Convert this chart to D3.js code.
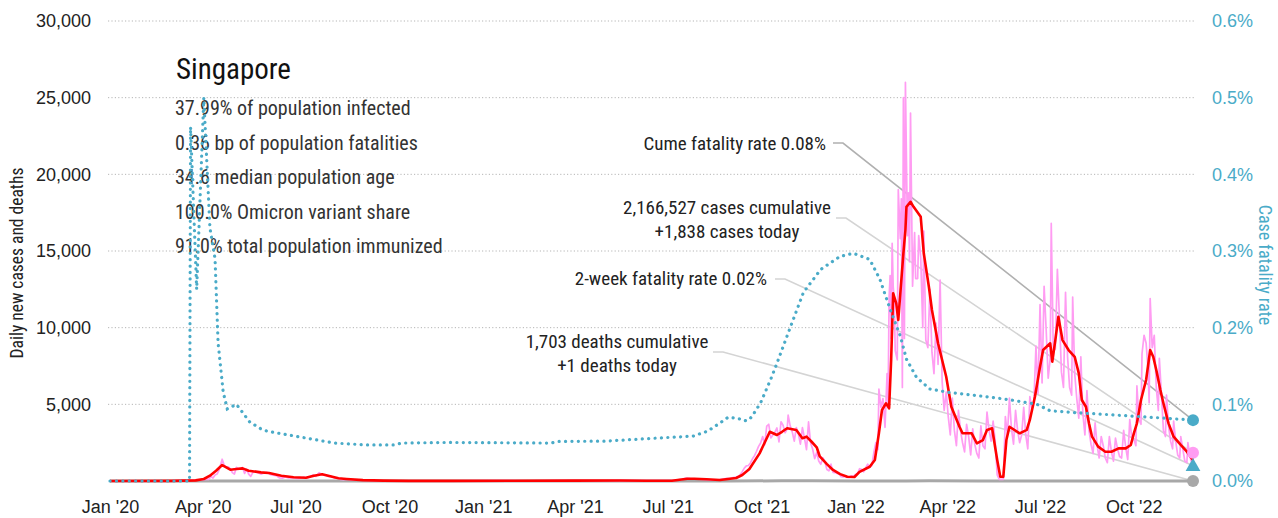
<!DOCTYPE html>
<html>
<head>
<meta charset="utf-8">
<script src="https://cdn.jsdelivr.net/npm/d3@7"></script>
<style>
  body { margin: 0; background: #fff; }
  svg { display: block; font-family: "Roboto Condensed", "Liberation Sans Narrow", "DejaVu Sans Condensed", "Arial Narrow", sans-serif; font-stretch: condensed; }
</style>
</head>
<body>
<svg id="chart" width="1278" height="518"></svg>
<script>
// Daily new cases (raw reports)
const dailyCases = [
  ["2020-01-01",0],["2020-02-01",3],["2020-03-01",5],["2020-03-20",50],["2020-03-28",70],["2020-04-02",90],["2020-04-05",120],["2020-04-07",110],["2020-04-09",290],["2020-04-11",190],["2020-04-13",390],["2020-04-15",450],["2020-04-17",730],["2020-04-18",940],["2020-04-20",1420],["2020-04-22",1020],["2020-04-24",900],["2020-04-26",930],["2020-04-28",800],["2020-04-30",550],["2020-05-02",450],["2020-05-04",890],["2020-05-06",780],["2020-05-08",770],["2020-05-10",880],["2020-05-12",490],["2020-05-14",780],["2020-05-16",450],["2020-05-18",300],["2020-05-20",550],["2020-05-22",610],["2020-05-25",540],["2020-05-28",450],["2020-05-31",520],["2020-06-03",560],["2020-06-06",430],["2020-06-09",380],["2020-06-12",350],["2020-06-15",210],["2020-06-18",190],["2020-06-21",260],["2020-06-24",200],["2020-06-27",210],["2020-06-30",200],["2020-07-03",160],["2020-07-06",180],["2020-07-09",250],["2020-07-12",180],["2020-07-15",280],["2020-07-18",400],["2020-07-21",300],["2020-07-24",540],["2020-07-27",420],["2020-07-30",390],["2020-08-02",300],["2020-08-05",300],["2020-08-08",190],["2020-08-11",190],["2020-08-14",100],["2020-08-17",90],["2020-08-20",120],["2020-08-25",70],["2020-09-01",50],["2020-09-10",40],["2020-09-20",20],["2020-10-01",15],["2020-11-01",8],["2020-12-01",10],
  ["2021-01-15",30],["2021-02-15",15],["2021-03-15",20],["2021-04-15",30],["2021-05-01",30],["2021-05-15",45],["2021-06-01",25],["2021-06-20",20],["2021-07-05",25],["2021-07-15",110],["2021-07-19",190],["2021-07-23",160],["2021-07-27",140],["2021-07-31",120],["2021-08-04",100],["2021-08-08",90],["2021-08-12",60],["2021-08-16",50],["2021-08-20",80],["2021-08-24",130],["2021-08-28",180],["2021-08-31",160],["2021-09-03",230],["2021-09-06",260],["2021-09-09",330],["2021-09-12",610],["2021-09-14",840],["2021-09-16",990],["2021-09-18",1010],["2021-09-20",1180],["2021-09-22",1450],["2021-09-24",1650],["2021-09-26",1940],["2021-09-28",2260],["2021-09-30",2480],["2021-10-02",2900],["2021-10-04",2370],["2021-10-06",3580],["2021-10-08",3700],["2021-10-10",2810],["2021-10-12",2980],["2021-10-14",3190],["2021-10-16",3460],["2021-10-18",2550],["2021-10-20",3860],["2021-10-22",3640],["2021-10-24",3150],["2021-10-26",3380],["2021-10-27",4300],["2021-10-29",3600],["2021-10-31",3200],["2021-11-02",2600],["2021-11-04",3480],["2021-11-06",3100],["2021-11-08",2400],["2021-11-10",3480],["2021-11-12",2800],["2021-11-14",2050],["2021-11-16",3850],["2021-11-18",2500],["2021-11-20",2090],["2021-11-22",1460],["2021-11-24",1860],["2021-11-26",1300],["2021-11-28",1090],["2021-11-30",1520],["2021-12-02",1270],["2021-12-04",750],["2021-12-06",660],["2021-12-08",1100],["2021-12-10",560],["2021-12-12",550],["2021-12-14",500],["2021-12-16",460],["2021-12-18",280],["2021-12-20",260],["2021-12-22",310],["2021-12-24",230],["2021-12-26",240],["2021-12-28",340],["2021-12-30",270],
  ["2022-01-01",430],["2022-01-03",490],["2022-01-05",800],["2022-01-07",760],["2022-01-09",600],["2022-01-11",850],["2022-01-13",1100],["2022-01-15",900],["2022-01-17",1000],["2022-01-19",1840],["2022-01-21",2500],["2022-01-23",2050],["2022-01-24",6000],["2022-01-26",4800],["2022-01-28",5380],["2022-01-30",3500],["2022-02-01",7000],["2022-02-02",5100],["2022-02-03",12000],["2022-02-04",13400],["2022-02-05",9300],["2022-02-06",15500],["2022-02-07",12700],["2022-02-08",11900],["2022-02-09",8500],["2022-02-11",7900],["2022-02-12",19000],["2022-02-14",15800],["2022-02-15",18400],["2022-02-16",6100],["2022-02-17",25000],["2022-02-18",9300],["2022-02-19",26000],["2022-02-21",16000],["2022-02-22",18800],["2022-02-23",14300],["2022-02-24",24000],["2022-02-26",12700],["2022-02-28",16200],["2022-03-01",13200],["2022-03-03",13200],["2022-03-04",16000],["2022-03-06",14600],["2022-03-08",10000],["2022-03-09",16300],["2022-03-11",9200],["2022-03-13",8700],["2022-03-15",12500],["2022-03-17",8400],["2022-03-19",7000],["2022-03-21",10300],["2022-03-23",7600],["2022-03-25",13100],["2022-03-27",6500],["2022-03-29",4600],["2022-03-31",5800],["2022-04-02",4200],["2022-04-04",3000],["2022-04-06",5400],["2022-04-08",3300],["2022-04-10",2300],["2022-04-12",4600],["2022-04-14",3300],["2022-04-16",2500],["2022-04-18",1900],["2022-04-20",3700],["2022-04-22",2900],["2022-04-24",1700],["2022-04-26",3400],["2022-04-28",2400],["2022-04-30",1800],["2022-05-02",1500],["2022-05-04",3600],["2022-05-06",2300],["2022-05-08",2100],["2022-05-10",4500],["2022-05-12",3300],["2022-05-14",2600],["2022-05-16",3900],["2022-05-18",2600],["2022-05-20",400],["2022-05-22",100],["2022-05-24",100],["2022-05-26",100],["2022-05-28",4200],["2022-05-30",3000],["2022-06-01",5400],["2022-06-03",3400],["2022-06-05",2400],["2022-06-07",4600],["2022-06-09",3300],["2022-06-11",2500],["2022-06-13",3000],["2022-06-15",4800],["2022-06-17",3000],["2022-06-19",2100],["2022-06-21",5500],["2022-06-23",4700],["2022-06-25",5200],["2022-06-27",8800],["2022-06-29",5700],["2022-07-01",11500],["2022-07-03",6400],["2022-07-05",12700],["2022-07-07",9900],["2022-07-09",6700],["2022-07-11",8000],["2022-07-12",16800],["2022-07-14",8500],["2022-07-16",8600],["2022-07-18",13800],["2022-07-20",10700],["2022-07-22",7100],["2022-07-24",6100],["2022-07-26",12300],["2022-07-28",8100],["2022-07-30",6100],["2022-08-01",5600],["2022-08-02",12000],["2022-08-04",7000],["2022-08-06",5400],["2022-08-08",4100],["2022-08-10",8100],["2022-08-12",4400],["2022-08-14",3000],["2022-08-16",5900],["2022-08-18",3300],["2022-08-20",2400],["2022-08-22",1800],["2022-08-24",3800],["2022-08-26",2300],["2022-08-28",1500],["2022-08-30",2900],["2022-09-01",2300],["2022-09-03",1500],["2022-09-05",1200],["2022-09-07",2900],["2022-09-09",1900],["2022-09-11",1300],["2022-09-13",2800],["2022-09-15",2100],["2022-09-17",1600],["2022-09-19",1500],["2022-09-21",3300],["2022-09-23",2200],["2022-09-25",1400],["2022-09-27",4000],["2022-09-29",2800],["2022-10-01",2700],["2022-10-03",2300],["2022-10-04",6200],["2022-10-06",4000],["2022-10-08",3700],["2022-10-09",8300],["2022-10-11",9500],["2022-10-13",9000],["2022-10-15",7200],["2022-10-16",5100],["2022-10-17",11900],["2022-10-19",8700],["2022-10-21",9500],["2022-10-23",6100],["2022-10-25",4600],["2022-10-26",8000],["2022-10-28",5700],["2022-10-30",3300],["2022-11-01",2900],["2022-11-02",5600],["2022-11-04",3600],["2022-11-06",2600],["2022-11-08",2100],["2022-11-09",3900],["2022-11-11",2600],["2022-11-13",1700],["2022-11-15",1500],["2022-11-16",2900],["2022-11-18",2100],["2022-11-20",1300],["2022-11-22",1200],["2022-11-23",2500],["2022-11-25",1600],["2022-11-27",1100],["2022-11-28",1838]
];

// 7-day average of new cases
const avgCases = [
  ["2020-01-01",0],["2020-03-01",5],["2020-03-25",40],["2020-04-02",130],["2020-04-08",345],["2020-04-14",670],["2020-04-20",1040],["2020-04-24",890],["2020-04-28",735],["2020-05-04",780],["2020-05-10",825],["2020-05-16",670],["2020-05-28",565],["2020-06-05",520],["2020-06-17",345],["2020-06-29",240],["2020-07-11",215],["2020-07-19",345],["2020-07-27",435],["2020-08-04",305],["2020-08-12",175],["2020-08-20",130],["2020-09-05",60],["2020-09-25",25],["2020-10-20",10],["2020-12-01",10],
  ["2021-02-01",15],["2021-04-01",25],["2021-05-15",35],["2021-06-10",20],["2021-07-05",20],["2021-07-20",150],["2021-07-27",150],["2021-08-08",110],["2021-08-21",65],["2021-08-31",150],["2021-09-06",195],["2021-09-12",390],["2021-09-19",780],["2021-09-29",1800],["2021-10-09",3210],["2021-10-16",3000],["2021-10-21",3210],["2021-10-26",3440],["2021-11-04",3330],["2021-11-10",2790],["2021-11-14",2890],["2021-11-19",2560],["2021-11-24",2200],["2021-11-27",1600],["2021-12-04",1100],["2021-12-10",720],["2021-12-17",450],["2021-12-24",280],["2021-12-31",260],
  ["2022-01-05",600],["2022-01-15",930],["2022-01-20",1370],["2022-01-24",3110],["2022-01-27",4630],["2022-01-31",5070],["2022-02-03",4740],["2022-02-05",7890],["2022-02-07",12240],["2022-02-10",11590],["2022-02-12",10500],["2022-02-17",14850],["2022-02-19",16370],["2022-02-20",17880],["2022-02-24",18210],["2022-02-27",17880],["2022-03-06",17230],["2022-03-09",14850],["2022-03-12",13540],["2022-03-14",12670],["2022-03-17",11150],["2022-03-23",8980],["2022-03-31",6800],["2022-04-05",4840],["2022-04-13",3540],["2022-04-16",3110],["2022-04-25",3110],["2022-04-30",2460],["2022-05-06",2670],["2022-05-10",3330],["2022-05-15",3440],["2022-05-20",1370],["2022-05-23",280],["2022-05-26",280],["2022-05-29",2670],["2022-06-01",3540],["2022-06-11",3110],["2022-06-18",3330],["2022-06-21",3980],["2022-06-26",5500],["2022-07-01",7450],["2022-07-04",8540],["2022-07-11",8980],["2022-07-13",7780],["2022-07-16",9190],["2022-07-19",10710],["2022-07-23",9190],["2022-07-29",8540],["2022-08-04",8100],["2022-08-08",7020],["2022-08-11",5280],["2022-08-15",4840],["2022-08-18",3760],["2022-08-21",2890],["2022-08-27",2240],["2022-09-03",1910],["2022-09-09",1910],["2022-09-16",2130],["2022-09-23",2130],["2022-09-28",2350],["2022-10-01",3110],["2022-10-04",3760],["2022-10-08",5280],["2022-10-13",6590],["2022-10-17",8540],["2022-10-20",8100],["2022-10-23",7240],["2022-10-27",5930],["2022-10-30",5070],["2022-11-04",3760],["2022-11-09",2890],["2022-11-16",2350],["2022-11-22",1910],["2022-11-28",1370]
];

// Case fatality rate, percent
const fatalityRate = [
  ["2020-01-01",0],["2020-03-19",0],["2020-03-20",0.462],["2020-03-26",0.25],["2020-04-02",0.50],["2020-04-08",0.33],["2020-04-13",0.29],["2020-04-16",0.18],["2020-04-21",0.116],["2020-04-25",0.094],["2020-05-04",0.10],["2020-05-17",0.077],["2020-05-28",0.068],["2020-06-03",0.065],["2020-07-07",0.057],["2020-08-08",0.0495],["2020-09-09",0.047],["2020-10-05",0.047],["2020-10-13",0.0495],["2020-11-28",0.0503],
  ["2021-03-08",0.0495],["2021-03-16",0.0516],["2021-04-30",0.052],["2021-06-04",0.0547],["2021-07-26",0.0586],["2021-08-09",0.065],["2021-08-22",0.0764],["2021-08-29",0.083],["2021-09-08",0.0816],["2021-09-14",0.0785],["2021-09-19",0.080],["2021-09-24",0.0894],["2021-09-30",0.102],["2021-10-05",0.1175],["2021-10-10",0.133],["2021-10-15",0.15],["2021-10-29",0.20],["2021-11-11",0.246],["2021-11-28",0.276],["2021-12-17",0.293],["2021-12-30",0.297],
  ["2022-01-15",0.289],["2022-01-25",0.263],["2022-02-04",0.224],["2022-02-14",0.189],["2022-02-20",0.159],["2022-03-02",0.135],["2022-03-15",0.12],["2022-04-03",0.1155],["2022-05-03",0.111],["2022-06-01",0.106],["2022-06-28",0.100],["2022-07-11",0.0915],["2022-08-02",0.0894],["2022-09-10",0.0863],["2022-10-20",0.0829],["2022-11-28",0.0794]
];

// Daily deaths (7-day average)
const avgDeaths = [
  ["2020-01-01",0],["2020-04-20",1],["2020-06-01",0],["2021-09-01",1],["2021-10-20",12],["2021-11-20",10],["2021-12-31",3],["2022-02-20",8],["2022-03-15",9],["2022-05-01",2],["2022-07-20",6],["2022-09-15",2],["2022-10-20",4],["2022-11-28",1]
];

const leftTicks = [5000, 10000, 15000, 20000, 25000, 30000];
const rightTicks = [0, 0.1, 0.2, 0.3, 0.4, 0.5, 0.6];
const monthTicks = ["2020-01-01","2020-04-01","2020-07-01","2020-10-01","2021-01-01","2021-04-01","2021-07-01","2021-10-01","2022-01-01","2022-04-01","2022-07-01","2022-10-01"];

const countryName = "Singapore";
const countryStats = [
  "37.99% of population infected",
  "0.36 bp of population fatalities",
  "34.6 median population age",
  "100.0% Omicron variant share",
  "91.0% total population immunized"
];

const latest = { cfr: 0.0794, cases: 1838, twoWeekCfr: 0.02, deaths: 0 };
const notes = {
  cume: ["Cume fatality rate 0.08%"],
  cases: ["2,166,527 cases cumulative", "+1,838 cases today"],
  twoWeek: ["2-week fatality rate 0.02%"],
  deaths: ["1,703 deaths cumulative", "+1 deaths today"]
};

const parse = d3.timeParse("%Y-%m-%d");
const endDate = parse("2022-11-28");

const svg = d3.select("#chart");
const W = 1278, H = 518;
const m = { left: 110, right: 85, top: 21, bottom: 37 };

const x = d3.scaleTime().domain([parse("2020-01-01"), endDate]).range([m.left, W - m.right]);
const y = d3.scaleLinear().domain([0, 30000]).range([H - m.bottom, m.top]);
const yR = d3.scaleLinear().domain([0, 0.6]).range([H - m.bottom, m.top]);

const TEAL = "#4aabc8";
const PINK = "#ff9cf2";
const RED = "#ff0000";
const GREY = "#a8a8a8";

// gridlines
svg.append("g").selectAll("line").data(leftTicks).join("line")
  .attr("x1", m.left - 2).attr("x2", W - m.right + 2)
  .attr("y1", d => y(d)).attr("y2", d => y(d))
  .attr("stroke", "#b5b5b5").attr("stroke-width", 1).attr("stroke-dasharray", "1.2,2.2");

// left axis
const gL = svg.append("g").attr("transform", `translate(${m.left - 19},0)`)
  .call(d3.axisLeft(y).tickValues(leftTicks).tickSize(0).tickPadding(0).tickFormat(d3.format(",")));
gL.select(".domain").remove();
gL.selectAll("text").attr("font-size", 18).attr("fill", "#222");

// right axis
const gR = svg.append("g").attr("transform", `translate(${W - m.right + 19},0)`)
  .call(d3.axisRight(yR).tickValues(rightTicks).tickSize(0).tickPadding(0).tickFormat(d => d.toFixed(1) + "%"));
gR.select(".domain").remove();
gR.selectAll("text").attr("font-size", 18).attr("fill", TEAL);

// bottom axis
const gB = svg.append("g").attr("transform", `translate(0,${H - m.bottom})`)
  .call(d3.axisBottom(x).tickValues(monthTicks.map(parse)).tickSize(0).tickPadding(19).tickFormat(d3.timeFormat("%b '%y")));
gB.select(".domain").remove();
gB.selectAll("text").attr("font-size", 18).attr("fill", "#222");

// axis titles
svg.append("text").attr("transform", `translate(23,${(m.top + H - m.bottom) / 2 + 12}) rotate(-90)`)
  .attr("text-anchor", "middle").attr("font-size", 17.5).attr("fill", "#222").text("Daily new cases and deaths");
svg.append("text").attr("transform", `translate(1259,${(m.top + H - m.bottom) / 2 + 14}) rotate(90)`)
  .attr("text-anchor", "middle").attr("font-size", 18).attr("fill", TEAL).text("Case fatality rate");

// country title and stats
svg.append("text").attr("x", 176).attr("y", 79).attr("font-size", 29).attr("fill", "#111").text(countryName);
svg.append("g").selectAll("text").data(countryStats).join("text")
  .attr("x", 175).attr("y", (d, i) => 115 + i * 34.6)
  .attr("font-size", 20).attr("fill", "#333").text(d => d);

// annotation leader lines
const endX = x(endDate);
const leaders = [
  { x0: 833, y0: 143, y1: yR(latest.cfr), color: "#b0b0b0" },
  { x0: 836, y0: 218, y1: y(latest.cases), color: "#d4d4d4" },
  { x0: 775, y0: 279, y1: yR(latest.twoWeekCfr), color: "#d4d4d4" },
  { x0: 713, y0: 352, y1: y(latest.deaths), color: "#d4d4d4" }
];
svg.append("g").selectAll("path").data(leaders).join("path")
  .attr("d", d => `M${d.x0},${d.y0}H${d.x0 + 10}L${endX},${d.y1}`)
  .attr("fill", "none").attr("stroke", d => d.color).attr("stroke-width", 1.6);

const line = (sc) => d3.line().x(d => x(parse(d[0]))).y(d => sc(d[1]));

// deaths
svg.append("path").datum(avgDeaths).attr("d", line(y)).attr("fill", "none")
  .attr("stroke", GREY).attr("stroke-width", 3);

// raw daily cases
svg.append("path").datum(dailyCases).attr("d", line(y)).attr("fill", "none")
  .attr("stroke", PINK).attr("stroke-width", 1.7).attr("stroke-linejoin", "round");

// 7-day average
svg.append("path").datum(avgCases).attr("d", line(y)).attr("fill", "none")
  .attr("stroke", RED).attr("stroke-width", 2.6).attr("stroke-linejoin", "round");

// case fatality rate
svg.append("path").datum(fatalityRate).attr("d", line(yR)).attr("fill", "none")
  .attr("stroke", TEAL).attr("stroke-width", 3.2).attr("stroke-linecap", "round").attr("stroke-dasharray", "0.1,6.3");

// end markers
svg.append("circle").attr("cx", endX).attr("cy", y(latest.deaths)).attr("r", 6).attr("fill", GREY);
svg.append("circle").attr("cx", endX).attr("cy", y(latest.cases)).attr("r", 6).attr("fill", PINK);
svg.append("path").attr("d", d3.symbol(d3.symbolTriangle, 95)())
  .attr("transform", `translate(${endX},${yR(latest.twoWeekCfr) + 1})`).attr("fill", TEAL);
svg.append("circle").attr("cx", endX).attr("cy", yR(latest.cfr)).attr("r", 6).attr("fill", TEAL);

// annotation labels
svg.append("text").attr("x", 826).attr("y", 150).attr("text-anchor", "end").attr("font-size", 19).attr("fill", "#222").text(notes.cume[0]);
svg.append("g").selectAll("text").data(notes.cases).join("text")
  .attr("x", 727).attr("y", (d, i) => 214 + i * 24).attr("text-anchor", "middle").attr("font-size", 19).attr("fill", "#222").text(d => d);
svg.append("text").attr("x", 767).attr("y", 285).attr("text-anchor", "end").attr("font-size", 19).attr("fill", "#222").text(notes.twoWeek[0]);
svg.append("g").selectAll("text").data(notes.deaths).join("text")
  .attr("x", 617).attr("y", (d, i) => 348 + i * 24).attr("text-anchor", "middle").attr("font-size", 19).attr("fill", "#222").text(d => d);
</script>
</body>
</html>
